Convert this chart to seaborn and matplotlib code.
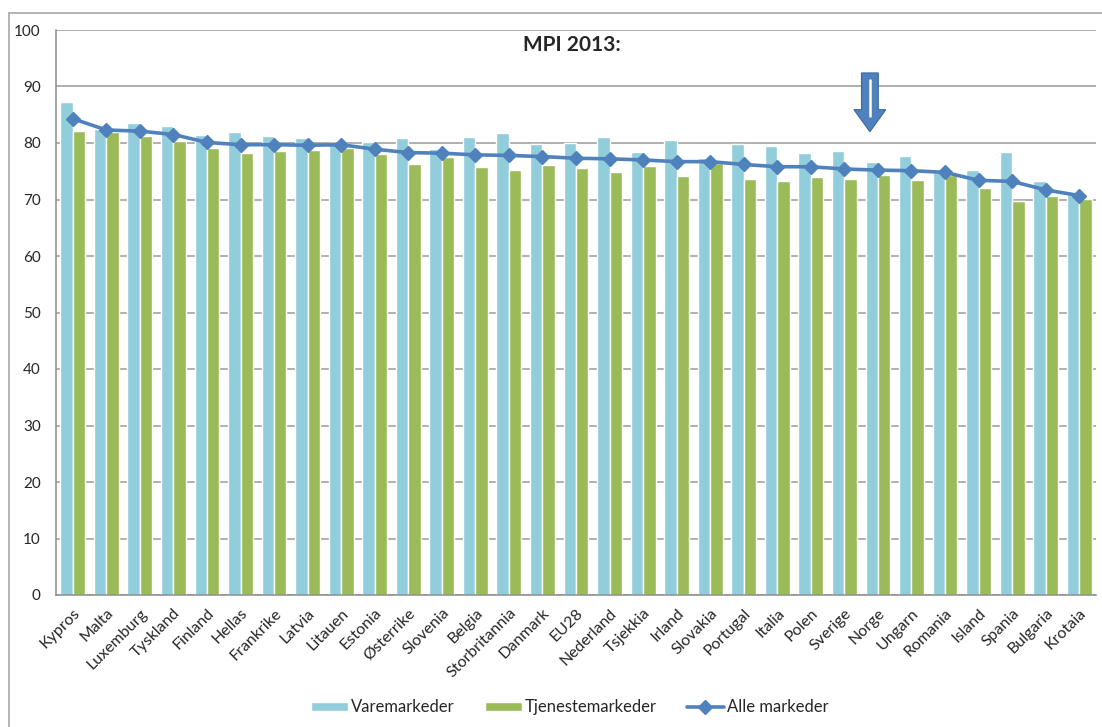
import pandas as pd
import matplotlib.pyplot as plt
from matplotlib.patches import Patch, Rectangle, FancyArrow
from matplotlib.lines import Line2D
import seaborn as sns

# Data
land = ["Kypros", "Malta", "Luxemburg", "Tyskland", "Finland", "Hellas", "Frankrike",
        "Latvia", "Litauen", "Estonia", "Østerrike", "Slovenia", "Belgia", "Storbritannia",
        "Danmark", "EU28", "Nederland", "Tsjekkia", "Irland", "Slovakia", "Portugal",
        "Italia", "Polen", "Sverige", "Norge", "Ungarn", "Romania", "Island", "Spania",
        "Bulgaria", "Krotaia"]
vare = [87.2, 82.5, 83.5, 83.0, 81.5, 81.9, 81.2, 80.9, 80.0, 80.1, 80.9, 79.0, 81.0, 81.7,
        79.9, 80.0, 81.0, 78.4, 80.5, 77.3, 79.9, 79.4, 78.3, 78.5, 76.7, 77.7, 74.8, 75.3,
        78.4, 73.3, 71.0]
tjeneste = [82.2, 82.0, 81.2, 80.3, 79.1, 78.2, 78.6, 78.8, 79.1, 78.0, 76.3, 77.5, 75.8, 75.2,
            76.1, 75.6, 74.8, 75.9, 74.1, 76.4, 73.7, 73.3, 74.0, 73.6, 74.3, 73.4, 74.3, 72.1,
            69.7, 70.6, 70.1]
alle = [84.3, 82.3, 82.1, 81.5, 80.1, 79.7, 79.7, 79.6, 79.7, 78.9, 78.3, 78.2, 77.9, 77.8,
        77.6, 77.3, 77.2, 77.0, 76.7, 76.7, 76.2, 75.8, 75.8, 75.4, 75.2, 75.1, 74.8, 73.4,
        73.2, 71.7, 70.7]
yticks = list(range(0, 101, 10))

serier = ["Varemarkeder", "Tjenestemarkeder"]
farger = {"Varemarkeder": "#92CDDC", "Tjenestemarkeder": "#9BBB59"}
linjefarge = "#4F81BD"

df = pd.DataFrame({
    "land": land * 2,
    "verdi": vare + tjeneste,
    "serie": [serier[0]] * len(land) + [serier[1]] * len(land),
})

sns.set_style("white")
plt.rcParams["font.family"] = ["Lato", "DejaVu Sans"]

fig = plt.figure(figsize=(11.02, 7.27), dpi=100)
ax = fig.add_axes([56 / 1102, 1 - 595 / 727, 1040 / 1102, 565 / 727])

sns.barplot(data=df, x="land", y="verdi", hue="serie", order=land, hue_order=serier,
            palette=farger, width=0.74, saturation=1, legend=False, ax=ax, zorder=2)
ax.plot(range(len(land)), alle, color=linjefarge, lw=2.6, marker="D", markersize=7.5,
        zorder=4)

ax.set_xlim(-0.5, len(land) - 0.5)
ax.set_ylim(0, 100)
ax.set_yticks(yticks)
ax.set_yticklabels([str(t) for t in yticks], fontsize=11)
ax.yaxis.grid(True, color="#9A9A9A", lw=1.1, zorder=0)
ax.set_axisbelow(True)
ax.set_xlabel("")
ax.set_ylabel("")

# tick marks between categories, like the original
ax.set_xticks(range(len(land)))
ax.set_xticklabels(land, rotation=45, ha="right", rotation_mode="anchor", fontsize=11.5)
ax.tick_params(axis="x", length=0, pad=8)
ax.set_xticks([i + 0.5 for i in range(-1, len(land))], minor=True)
ax.tick_params(axis="x", which="minor", length=5, color="#8C8C8C", width=1)
ax.tick_params(axis="y", length=5, color="#8C8C8C", width=1, pad=6)

for side in ["top", "right"]:
    ax.spines[side].set_visible(False)
for side in ["left", "bottom"]:
    ax.spines[side].set_color("#8C8C8C")
    ax.spines[side].set_linewidth(1.1)

# arrow pointing at Norge
ax.add_patch(FancyArrow(23.76, 92.4, 0, -10.4, width=0.5, head_width=0.95,
                        head_length=3.9, length_includes_head=True,
                        facecolor=linjefarge, edgecolor="#3A6AA5", lw=0.8, zorder=5))
ax.plot([23.76, 23.76], [91.2, 84.8], color="white", lw=1.8, zorder=6)

fig.text(572 / 1102, 1 - 45 / 727, "MPI 2013:", ha="center", va="center",
         fontsize=15, fontweight="bold")

handles = [
    Patch(facecolor=farger["Varemarkeder"], label="Varemarkeder"),
    Patch(facecolor=farger["Tjenestemarkeder"], label="Tjenestemarkeder"),
    Line2D([0], [0], color=linjefarge, lw=2.6, marker="D", markersize=7, label="Alle markeder"),
]
fig.legend(handles=handles, loc="center", bbox_to_anchor=(570 / 1102, 1 - 707 / 727),
           ncol=3, frameon=False, fontsize=12, handlelength=2.2, handleheight=0.45,
           handletextpad=0.2, columnspacing=1.8)

# chart border
fig.add_artist(Rectangle((9 / 1102, -0.05), 1.2, 1 - 13 / 727 + 0.05,
                         transform=fig.transFigure, fill=False, edgecolor="#A0A0A0", lw=1.1))

fig.savefig("out.png", dpi=100)
